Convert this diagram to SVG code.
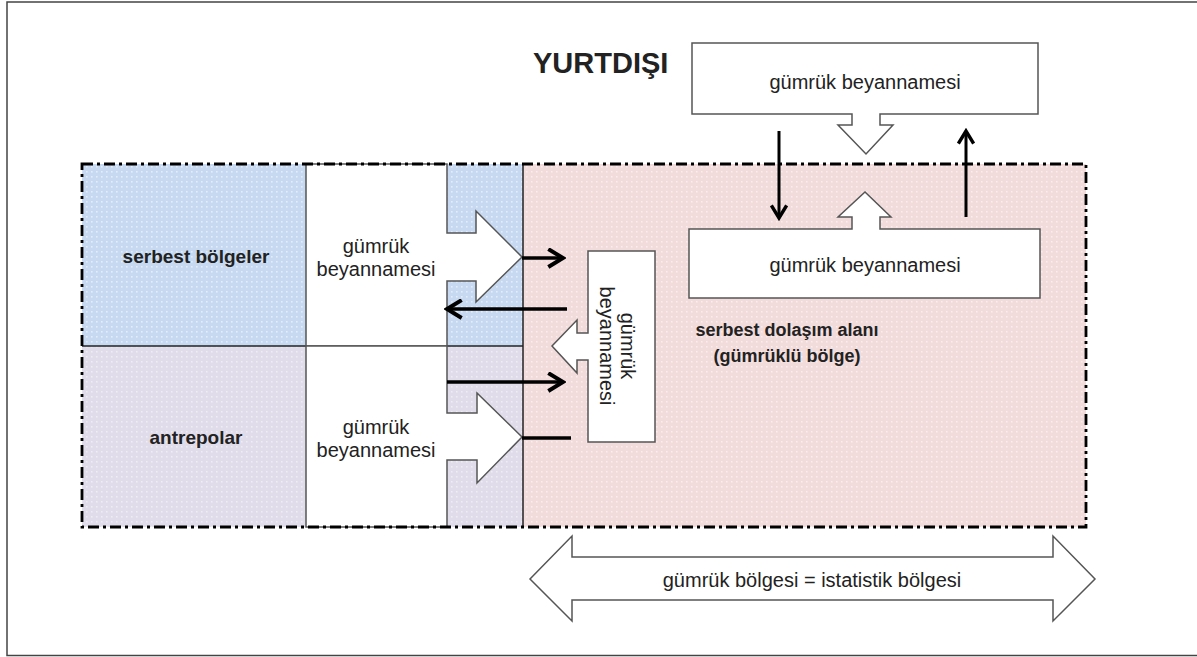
<svg xmlns="http://www.w3.org/2000/svg" width="1197" height="657" viewBox="0 0 1197 657">
  <defs>
    <pattern id="pBlue" patternUnits="userSpaceOnUse" width="5" height="5">
      <rect width="5" height="5" fill="#c6d9f0"/>
      <rect x="1" y="1" width="1.6" height="1.6" fill="#e4edf9"/>
    </pattern>
    <pattern id="pPurple" patternUnits="userSpaceOnUse" width="5" height="5">
      <rect width="5" height="5" fill="#e0dcea"/>
      <rect x="1" y="1" width="1.6" height="1.6" fill="#eeecf4"/>
    </pattern>
    <pattern id="pPink" patternUnits="userSpaceOnUse" width="5" height="5">
      <rect width="5" height="5" fill="#f2dbdb"/>
      <rect x="1" y="1" width="1.6" height="1.6" fill="#f9eded"/>
    </pattern>
    <marker id="chev" viewBox="0 0 20 20" markerUnits="userSpaceOnUse" markerWidth="21" markerHeight="21" refX="17" refY="10" orient="auto">
      <path d="M3,1.5 L17,10 L3,18.5" fill="none" stroke="#000" stroke-width="3.8"/>
    </marker>
    <marker id="chevS" viewBox="0 0 20 20" markerUnits="userSpaceOnUse" markerWidth="18" markerHeight="18" refX="17" refY="10" orient="auto">
      <path d="M3,1.5 L17,10 L3,18.5" fill="none" stroke="#000" stroke-width="3.8"/>
    </marker>
  </defs>
  <style>
    .shape { fill: #fff; stroke: #555; stroke-width: 1.5; }
    .sep { stroke: #222; stroke-width: 1.5; fill: none; }
    .txt { font-family: "Liberation Sans", Arial, sans-serif; font-size: 20px; fill: #222; text-anchor: middle; }
    .bold { font-family: "Liberation Sans", Arial, sans-serif; font-weight: bold; fill: #222; text-anchor: middle; }
    .arr { stroke: #000; stroke-width: 3.5; fill: none; }
    .arrS { stroke: #000; stroke-width: 3; fill: none; }
  </style>

  <rect x="7" y="2" width="1192" height="653.5" fill="#fff" stroke="#444" stroke-width="1.5"/>

  <g id="zones">
    <rect x="82" y="164" width="441" height="182" fill="url(#pBlue)"/>
    <rect x="82" y="346" width="441" height="181" fill="url(#pPurple)"/>
    <rect x="523" y="164" width="563" height="363" fill="url(#pPink)"/>
    <line class="sep" x1="82" y1="346" x2="523" y2="346"/>
    <line class="sep" x1="523" y1="164" x2="523" y2="527"/>
  </g>

  <g id="node-serbest-bolgeler">
    <text class="bold" x="196" y="263" font-size="19">serbest bölgeler</text>
  </g>
  <g id="node-antrepolar">
    <text class="bold" x="196" y="444" font-size="19">antrepolar</text>
  </g>

  <g id="node-beyan-serbest">
    <path class="shape" d="M306,164 L447,164 L447,233 L476,233 L476,211 L522,257 L476,302 L476,281 L447,281 L447,346 L306,346 Z"/>
    <text class="txt" x="376" y="253">gümrük</text>
    <text class="txt" x="376" y="276">beyannamesi</text>
  </g>
  <g id="node-beyan-antrepo">
    <path class="shape" d="M306,346 L447,346 L447,413 L477,413 L477,393 L522,437 L477,483 L477,460 L447,460 L447,527 L306,527 Z"/>
    <text class="txt" x="376" y="434">gümrük</text>
    <text class="txt" x="376" y="457">beyannamesi</text>
  </g>

  <g id="node-beyan-vertical">
    <path class="shape" d="M588,251 L655,251 L655,442 L588,442 L588,360 L577,360 L577,373 L552,346 L577,320 L577,333 L588,333 Z"/>
    <text class="txt" transform="translate(621,346) rotate(90)"><tspan x="0" y="0">gümrük</tspan><tspan x="0" y="21">beyannamesi</tspan></text>
  </g>

  <g id="node-beyan-top">
    <path class="shape" d="M692,43 L1038,43 L1038,114 L880,114 L880,125 L893,125 L866,154 L838,125 L852,125 L852,114 L692,114 Z"/>
    <text class="txt" x="865" y="89">gümrük beyannamesi</text>
  </g>
  <g id="node-beyan-bottom">
    <path class="shape" d="M689,229 L852,229 L852,217 L838,217 L865,192 L891,217 L880,217 L880,229 L1040,229 L1040,298 L689,298 Z"/>
    <text class="txt" x="865" y="272">gümrük beyannamesi</text>
  </g>

  <g id="border">
    <rect x="82" y="164" width="1004" height="363" fill="none" stroke="#000" stroke-width="2.8" stroke-dasharray="11 4 3 4"/>
  </g>

  <g id="node-yurtdisi">
    <text class="bold" x="533" y="73" font-size="29" style="text-anchor:start">YURTDIŞI</text>
  </g>

  <g id="node-serbest-dolasim">
    <text class="bold" x="787" y="336" font-size="18">serbest dolaşım alanı</text>
    <text class="bold" x="787" y="362" font-size="18">(gümrüklü bölge)</text>
  </g>

  <g id="node-gumruk-bolgesi">
    <path class="shape" d="M530,579 L572,536 L572,557 L1053,557 L1053,536 L1095,579 L1053,621 L1053,600 L572,600 L572,621 Z"/>
    <text class="txt" x="812" y="587">gümrük bölgesi = istatistik bölgesi</text>
  </g>

  <g id="connectors">
    <line class="arr" x1="522" y1="258" x2="563" y2="258" marker-end="url(#chev)"/>
    <line class="arr" x1="567" y1="309" x2="447" y2="309" marker-end="url(#chev)"/>
    <line class="arr" x1="447" y1="382" x2="563" y2="382" marker-end="url(#chev)"/>
    <line class="arr" x1="522" y1="438" x2="571" y2="438"/>
    <line class="arrS" x1="779" y1="131" x2="779" y2="218" marker-end="url(#chevS)"/>
    <line class="arrS" x1="966" y1="217" x2="966" y2="131" marker-end="url(#chevS)"/>
  </g>
</svg>
